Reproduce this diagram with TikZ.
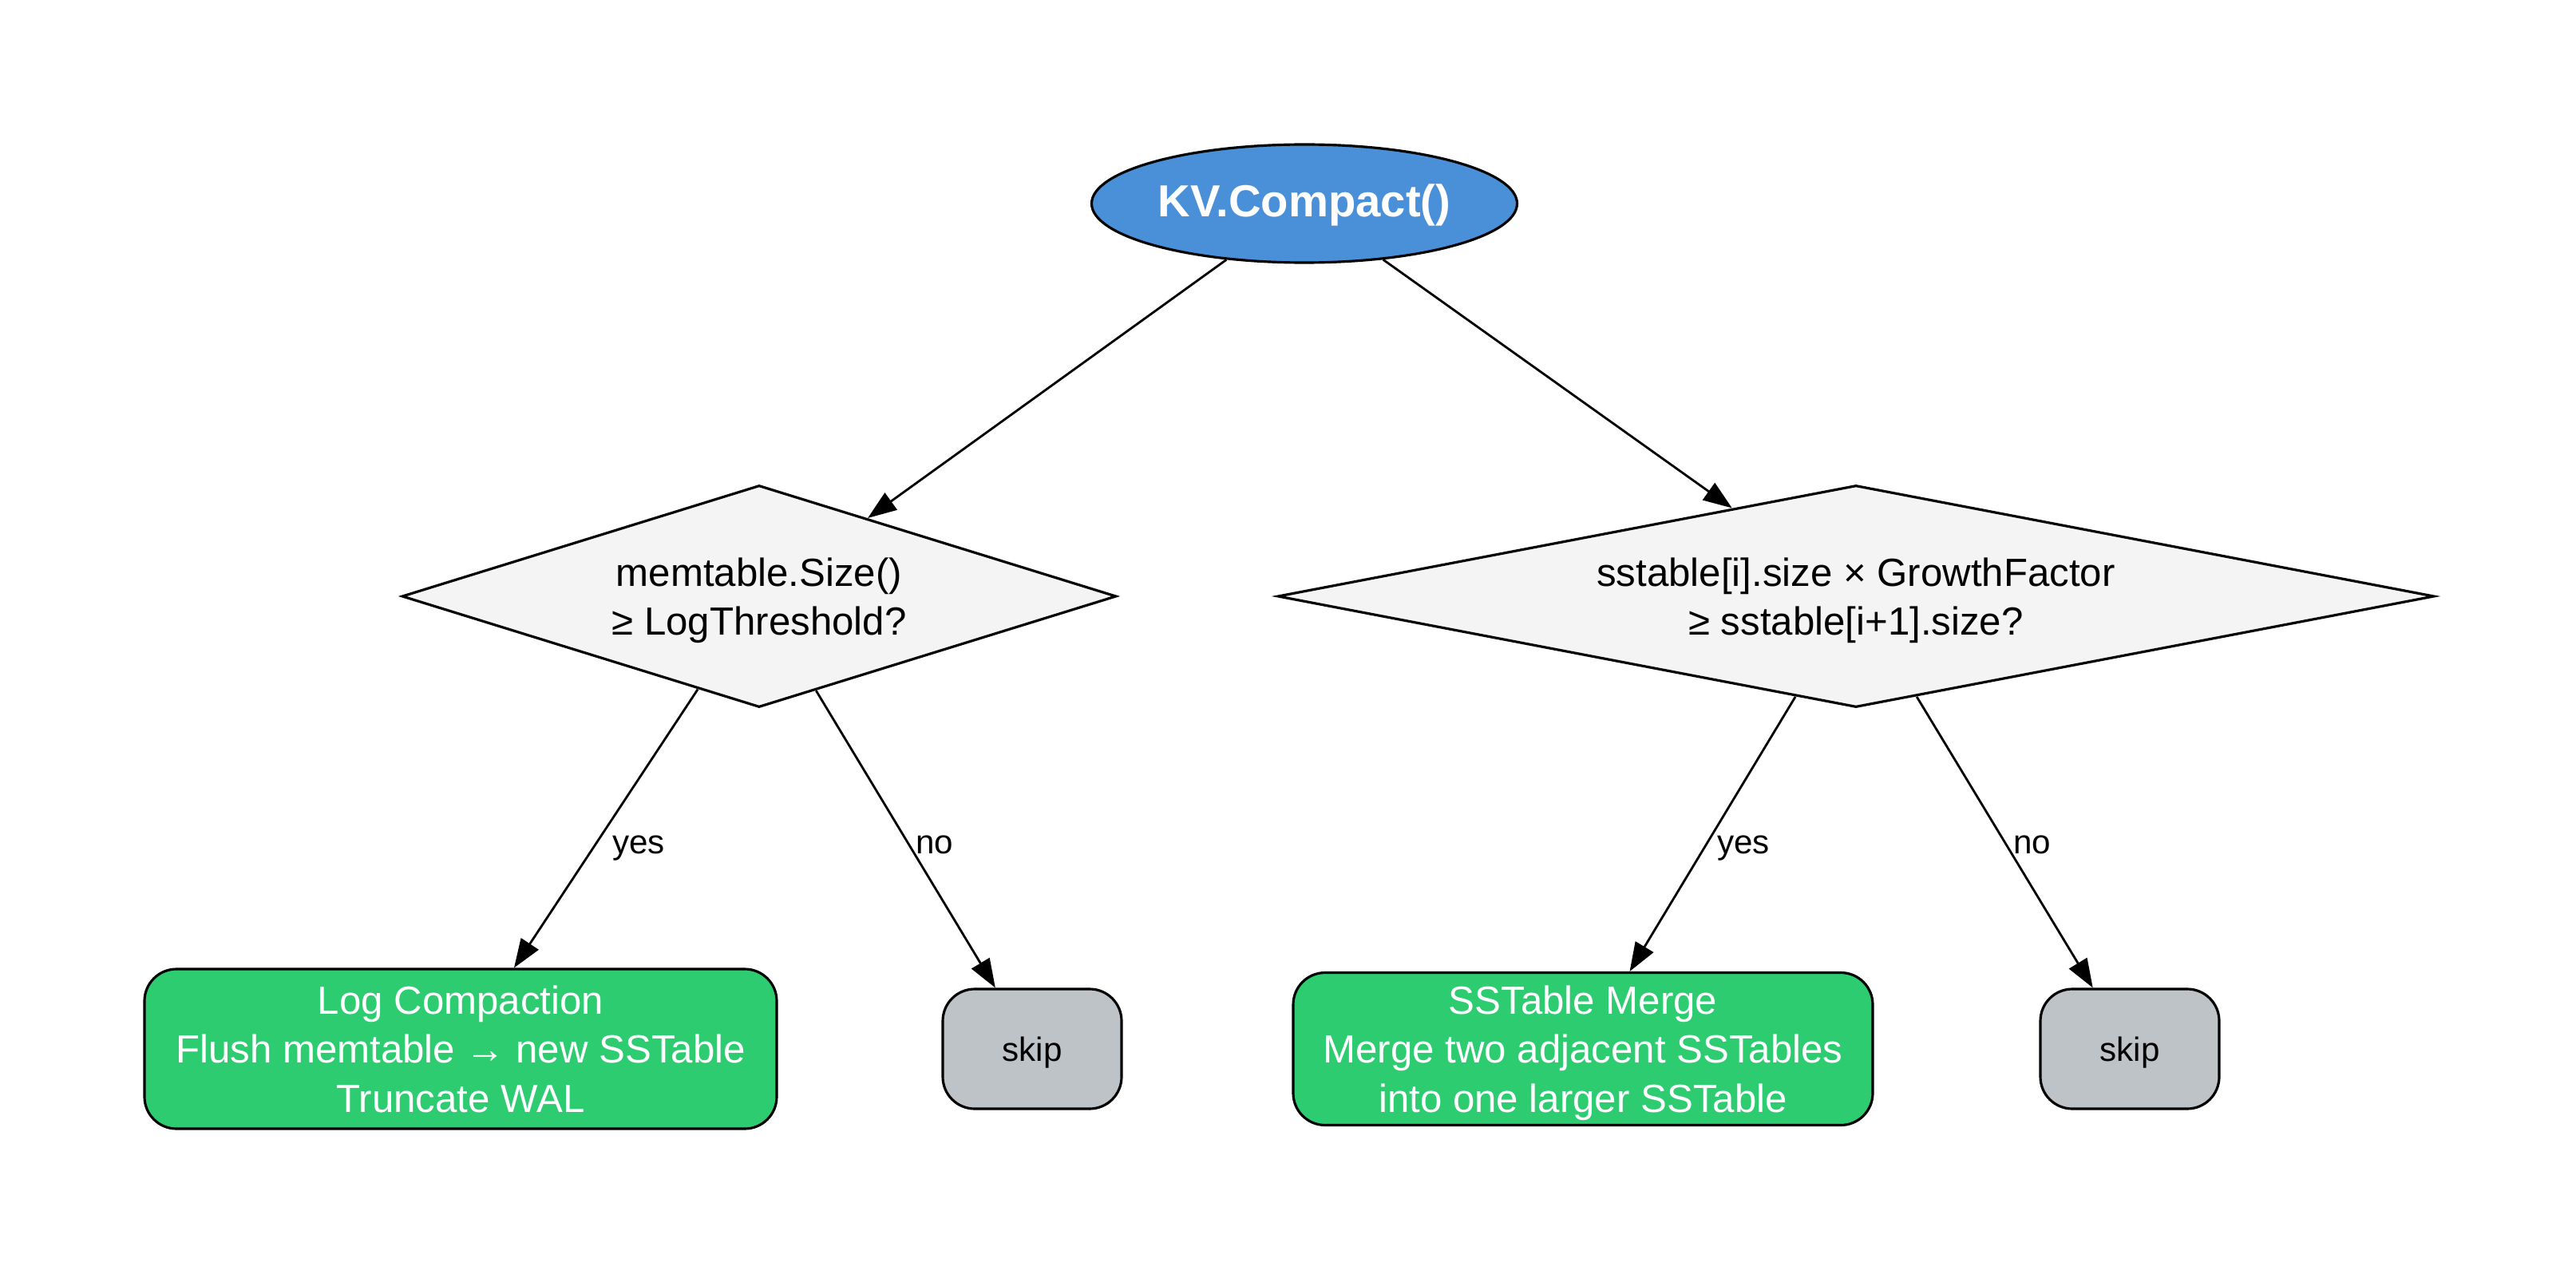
\documentclass[tikz,border=0pt]{standalone}
\usepackage{fontspec}
\setmainfont{Liberation Sans}
\usetikzlibrary{shapes.geometric,arrows.meta}

\begin{document}
\begin{tikzpicture}[x=1cm,y=1cm,
		base/.style={draw=black, line width=0.9pt, inner sep=0pt, align=center, text depth=-2pt, font=\fontsize{14}{17.5}\selectfont},
		startnode/.style={base, ellipse, fill=startblue, text=white, minimum width=5.33cm, minimum height=1.48cm, text depth=2pt, font=\fontsize{16}{19}\selectfont\bfseries},
		decision/.style={base, diamond, fill=decgray, minimum height=2.78cm},
		action/.style={base, rectangle, rounded corners=0.4cm, fill=actgreen, text=white},
		skipbox/.style={base, rectangle, rounded corners=0.4cm, fill=skipgray, minimum width=2.24cm, minimum height=1.5cm, font=\fontsize{12}{14}\selectfont},
		flow/.style={-{Triangle[length=0.36cm,width=0.26cm]}, line width=0.8pt},
		elabel/.style={anchor=west, inner sep=0.07cm, font=\fontsize{12}{14}\selectfont}]
			
			% Farben
			\definecolor{startblue}{RGB}{74,144,217}
			\definecolor{decgray}{RGB}{244,244,244}
			\definecolor{actgreen}{RGB}{46,204,113}
			\definecolor{skipgray}{RGB}{189,195,199}
			
			% Rahmen
			\useasboundingbox (0,0) rectangle (32.27,15.95);
			
			% Start
			\node[startnode] (compact) at (16.34,13.40) {KV.Compact()};
			
			% Entscheidungen
			\node[decision, aspect=3.22, minimum width=8.95cm] (memcheck) at (9.51,8.48) {memtable.Size()\\≥ LogThreshold?};
			\node[decision, aspect=5.21, minimum width=14.49cm] (sstcheck) at (23.25,8.48) {sstable[i].size × GrowthFactor\\≥ sstable[i+1].size?};
			
			% Aktionen
			\node[action, minimum width=7.92cm, minimum height=2.0cm] (logcomp) at (5.77,2.81) {Log Compaction\\Flush memtable → new SSTable\\Truncate WAL};
			\node[skipbox] (skipa) at (12.93,2.81) {skip};
			\node[action, minimum width=7.26cm, minimum height=1.91cm] (merge) at (19.83,2.81) {SSTable Merge\\Merge two adjacent SSTables\\into one larger SSTable};
			\node[skipbox] (skipb) at (26.68,2.81) {skip};
			
			% Kanten
			\draw[flow] (compact) -- (memcheck);
			\draw[flow] (compact) -- (sstcheck);
			\draw[flow] (memcheck) -- node[elabel, pos=0.57, xshift=0.16cm] {yes} (logcomp);
			\draw[flow] (memcheck) -- node[elabel, pos=0.52] {no} (skipa);
			\draw[flow] (sstcheck) -- node[elabel, pos=0.55, xshift=0.08cm] {yes} (merge);
			\draw[flow] (sstcheck) -- node[elabel, pos=0.51] {no} (skipb);
			
		\end{tikzpicture}
\end{document}
